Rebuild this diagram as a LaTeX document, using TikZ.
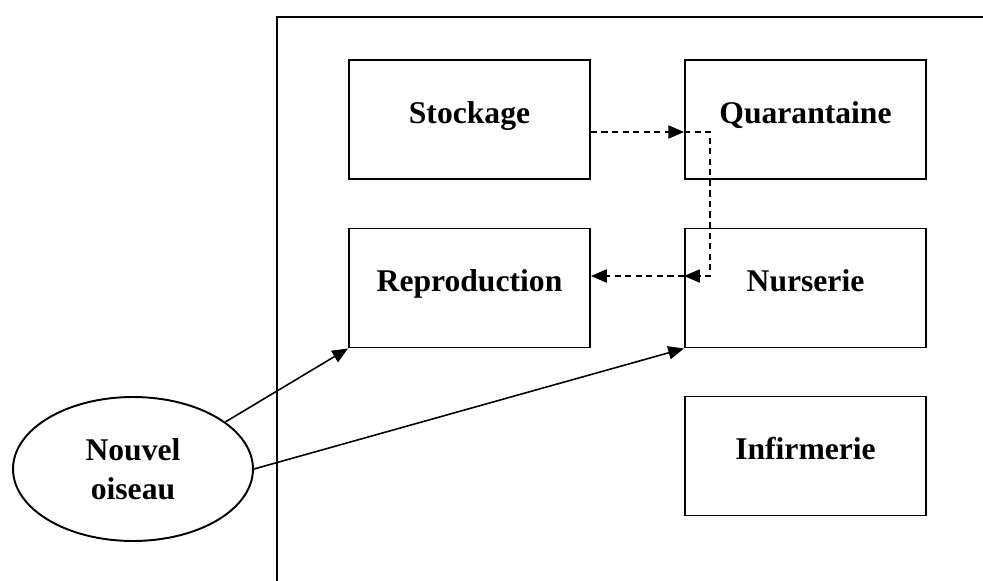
\documentclass[tikz,border=0pt]{standalone}
\usepackage{fontspec}
\setmainfont{Liberation Serif}
\usetikzlibrary{arrows.meta,shapes.geometric}

\begin{document}
\begin{tikzpicture}[x=0.02cm,y=-0.02cm,>={Triangle[length=9pt,width=7.5pt]},line width=0.9pt,
  room/.style={draw,rectangle,line width=1.1pt,minimum width=4.82cm,minimum height=2.38cm,
    text height=0.4cm,text depth=0.26cm,inner sep=0pt,font=\bfseries\fontsize{18}{21}\selectfont},
  bird/.style={draw,ellipse,line width=1.1pt,minimum width=4.8cm,minimum height=2.88cm,
    inner sep=0pt,align=center,font=\bfseries\fontsize{18}{22}\selectfont}]

	\clip (0,0) rectangle (983,581);

	% The building
	\draw[line width=1.1pt] (277,17) rectangle (1010,610);

	% The rooms
	\node [room] at (469.5,119.5) (stock) {Stockage};
	\node [room] at (805.5,119.5) (quar) {Quarantaine};
	\node [room] at (469.5,288) (repro) {Reproduction};
	\node [room] at (805.5,288) (nurs) {Nurserie};
	\node [room] at (805.5,456) (infirm) {Infirmerie};

	\node [bird] at (133,469) (oiseau) {Nouvel\\oiseau};

	\coordinate (q1) at (686,132);
	\coordinate (k2) at (710,276);

	% Graph edges
	\path[->]
	(oiseau.27) edge (repro.south west)
	(oiseau.east) edge (nurs.south west);

	\path[->,dash pattern=on 3.5pt off 2.5pt]
	(stock.east |- q1) edge (quar.west |- q1)
	(nurs.west |- k2) edge (repro.east |- k2);

	\draw[->,dash pattern=on 3.5pt off 2.5pt] (quar.west |- q1) -| (k2) -- (nurs.west |- k2);

\end{tikzpicture}
\end{document}
